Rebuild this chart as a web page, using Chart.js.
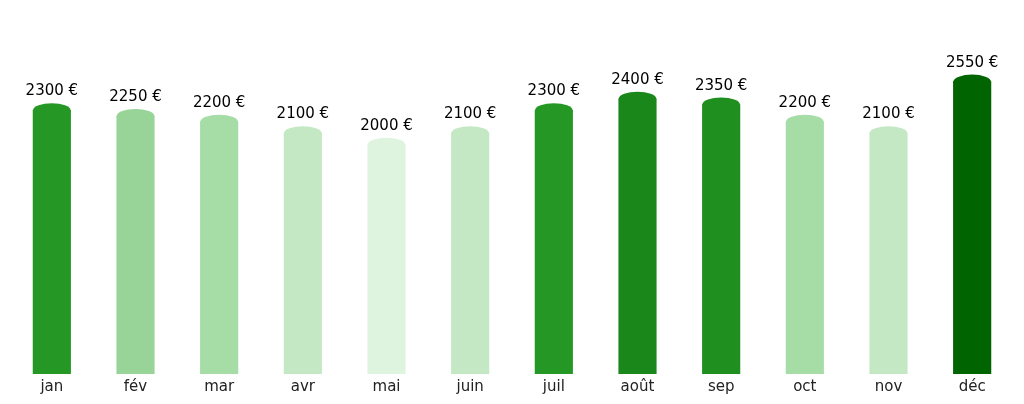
<!DOCTYPE html>
<html>
<head>
<meta charset="utf-8">
<script src="https://cdn.jsdelivr.net/npm/chart.js@4"></script>
<style>
  html, body { margin: 0; padding: 0; background: #fff; }
  #wrap { width: 1024px; height: 404px; }
</style>
</head>
<body>
<div id="wrap"><canvas id="c" width="1024" height="404"></canvas></div>
<script>
const months = ['jan', 'fév', 'mar', 'avr', 'mai', 'juin', 'juil', 'août', 'sep', 'oct', 'nov', 'déc'];
const sales = [2300, 2250, 2200, 2100, 2000, 2100, 2300, 2400, 2350, 2200, 2100, 2550];
const barColors = ['#259725', '#98d498', '#a6dca6', '#c4e8c4', '#dff4df', '#c4e8c4',
                   '#259725', '#1a871a', '#1f8f1f', '#a6dca6', '#c4e8c4', '#006400'];
const valueLabels = sales.map(v => v + ' €');

const capPlugin = {
  id: 'caps',
  afterDatasetsDraw(chart) {
    const ctx = chart.ctx;
    const meta = chart.getDatasetMeta(0);
    ctx.save();
    meta.data.forEach((bar, i) => {
      const w = bar.width;
      ctx.beginPath();
      ctx.ellipse(bar.x, bar.y, w / 2, 7, 0, 0, Math.PI * 2);
      ctx.fillStyle = barColors[i];
      ctx.fill();
      ctx.fillStyle = '#000';
      ctx.font = '15px "DejaVu Sans", sans-serif';
      ctx.textAlign = 'center';
      ctx.textBaseline = 'alphabetic';
      ctx.fillText(valueLabels[i], bar.x, bar.y - 15);
    });
    ctx.restore();
  }
};

new Chart(document.getElementById('c'), {
  type: 'bar',
  data: {
    labels: months,
    datasets: [{
      data: sales,
      backgroundColor: barColors,
      borderWidth: 0,
      barThickness: 37.5
    }]
  },
  options: {
    responsive: false,
    animation: false,
    devicePixelRatio: 1,
    layout: { padding: { left: 10, right: 10, top: 30, bottom: 0 } },
    plugins: { legend: { display: false }, tooltip: { enabled: false } },
    scales: {
      x: {
        grid: { display: false, drawTicks: false },
        border: { display: false },
        ticks: { color: '#222', font: { family: '"DejaVu Sans", sans-serif', size: 15 }, padding: 4 },
        afterFit(axis) { axis.height = 30; }
      },
      y: {
        display: false,
        min: 0,
        max: 3000
      }
    }
  },
  plugins: [capPlugin]
});
</script>
</body>
</html>
